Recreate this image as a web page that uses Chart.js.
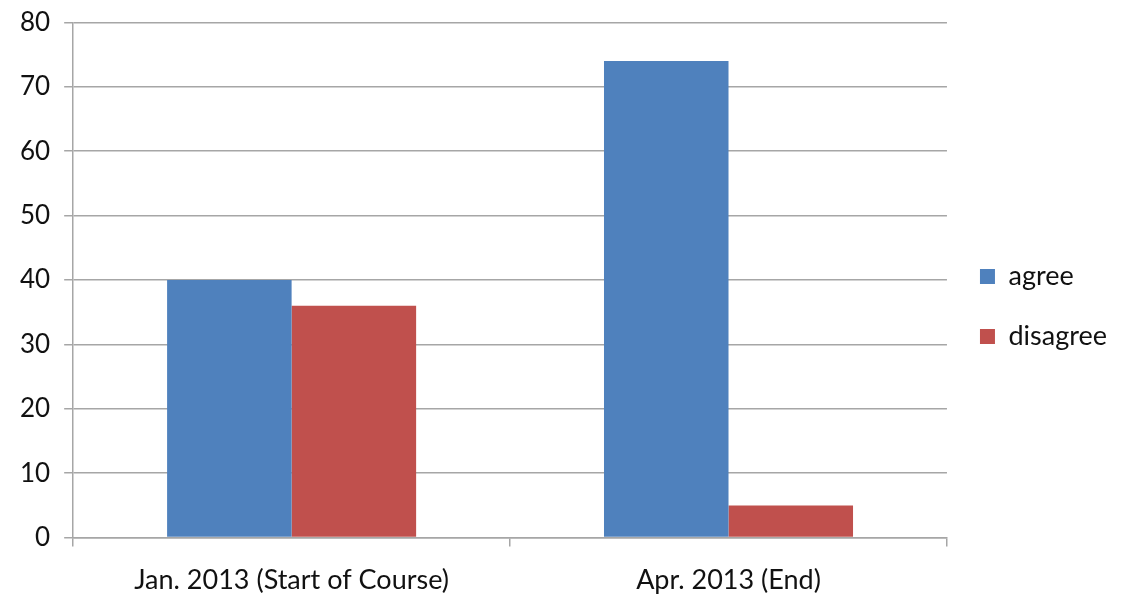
<!DOCTYPE html>
<html>
<head>
<meta charset="utf-8">
<script src="https://cdn.jsdelivr.net/npm/chart.js@4"></script>
<style>
  html, body { margin: 0; padding: 0; background: #fff; }
  #wrap { width: 1121px; height: 596px; position: relative; }
</style>
</head>
<body>
<div id="wrap"><canvas id="chart"></canvas></div>
<script>
// ---------------------- DATA ----------------------
const categories = ["Jan. 2013 (Start of Course)", "Apr. 2013 (End)"];
const agree = [40, 74];
const disagree = [36, 5];
const yTicks = [0, 10, 20, 30, 40, 50, 60, 70, 80];

const gridColor = "#a6a6a6";
const fontFamily = "Lato, 'Open Sans', sans-serif";

// ---------------------- CHART ----------------------
const ctx = document.getElementById("chart");
new Chart(ctx, {
  type: "bar",
  data: {
    labels: categories,
    datasets: [
      {
        label: "agree",
        data: agree,
        backgroundColor: "#4f81bd",
        categoryPercentage: 0.57,
        barPercentage: 1,
      },
      {
        label: "disagree",
        data: disagree,
        backgroundColor: "#c0504d",
        categoryPercentage: 0.57,
        barPercentage: 1,
      },
    ],
  },
  options: {
    responsive: true,
    maintainAspectRatio: false,
    animation: false,
    layout: { padding: { top: 0, left: 6, right: 4, bottom: -17 } },
    plugins: {
      tooltip: { enabled: false },
      legend: {
        position: "right",
        labels: {
          boxWidth: 15,
          boxHeight: 15,
          padding: 33,
          color: "#111",
          font: { family: fontFamily, size: 27 },
        },
      },
    },
    scales: {
      x: {
        grid: {
          offset: true,
          drawOnChartArea: false,
          color: gridColor,
          lineWidth: 1.5,
          tickLength: 9,
        },
        border: { color: gridColor, width: 1.5 },
        ticks: {
          color: "#111",
          padding: 17,
          font: { family: fontFamily, size: 27 },
        },
      },
      y: {
        min: 0,
        max: 80,
        afterBuildTicks: (axis) => {
          axis.ticks = yTicks.map((v) => ({ value: v }));
        },
        grid: { color: gridColor, lineWidth: 1.5, tickLength: 9 },
        border: { color: gridColor, width: 1.5 },
        ticks: {
          color: "#111",
          padding: 14,
          font: { family: fontFamily, size: 26, lineHeight: 0.65 },
        },
      },
    },
  },
});
</script>
</body>
</html>
